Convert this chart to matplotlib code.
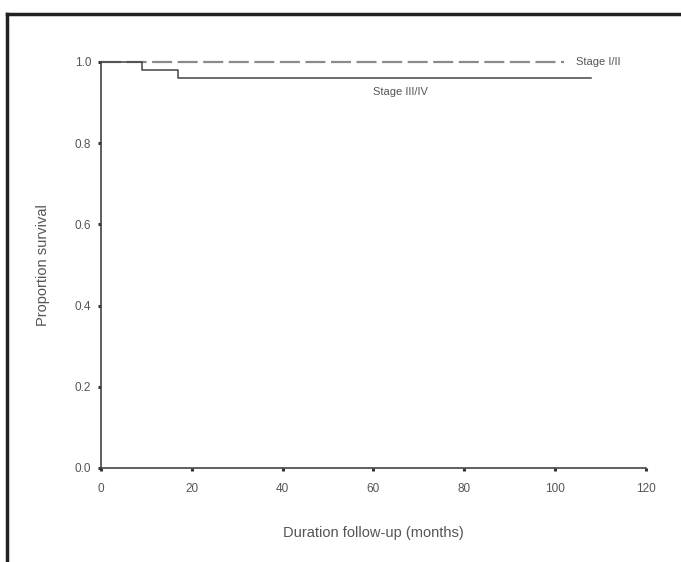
import matplotlib.pyplot as plt
from matplotlib.lines import Line2D

plt.rcParams['font.family'] = ['Liberation Sans', 'DejaVu Sans']

# Kaplan-Meier step data
stage12_months = [0, 102]
stage12_surv = [1.0, 1.0]

stage34_months = [0, 9, 17, 108]
stage34_surv = [1.0, 0.98, 0.96, 0.96]

x_ticks = [0, 20, 40, 60, 80, 100, 120]
y_ticks = [0.0, 0.2, 0.4, 0.6, 0.8, 1.0]

txt_color = '#555555'

fig = plt.figure(figsize=(6.81, 5.62), dpi=100)

# outer frame (top and left edges only)
fig.add_artist(Line2D([0.011, 1.0], [0.975, 0.975], transform=fig.transFigure,
                      color='#222222', lw=2.5))
fig.add_artist(Line2D([0.011, 0.011], [0.0, 0.975], transform=fig.transFigure,
                      color='#222222', lw=2.5))

ax = fig.add_axes([0.1483, 0.1673, 0.8003, 0.7224])

ax.step(stage12_months, stage12_surv, where='post', color='#8a8a8a', lw=1.6,
        dashes=(9, 2.5), clip_on=False)
ax.step(stage34_months, stage34_surv, where='post', color='#444444', lw=1.1,
        clip_on=False)

ax.set_xlim(0, 120)
ax.set_ylim(0, 1.0)
ax.set_xticks(x_ticks)
ax.set_yticks(y_ticks)
ax.set_yticklabels(['%.1f' % v for v in y_ticks])

for side in ['top', 'right']:
    ax.spines[side].set_visible(False)
for side in ['left', 'bottom']:
    ax.spines[side].set_color('#444444')
    ax.spines[side].set_linewidth(1.2)

ax.tick_params(axis='both', direction='out', length=2, width=2.2, color='#333333',
               labelsize=8.5, labelcolor=txt_color)
ax.tick_params(axis='x', pad=9)
ax.tick_params(axis='y', pad=5)

ax.text(104.5, 1.0, 'Stage I/II', fontsize=8, color=txt_color, ha='left', va='center')
ax.text(60, 0.927, 'Stage III/IV', fontsize=8, color=txt_color, ha='left', va='center')

ax.set_xlabel('Duration follow-up (months)', fontsize=10.5, color=txt_color, labelpad=22)
ax.set_ylabel('Proportion survival', fontsize=10.5, color=txt_color, labelpad=18)

fig.savefig('out.png', dpi=100, facecolor='white')
